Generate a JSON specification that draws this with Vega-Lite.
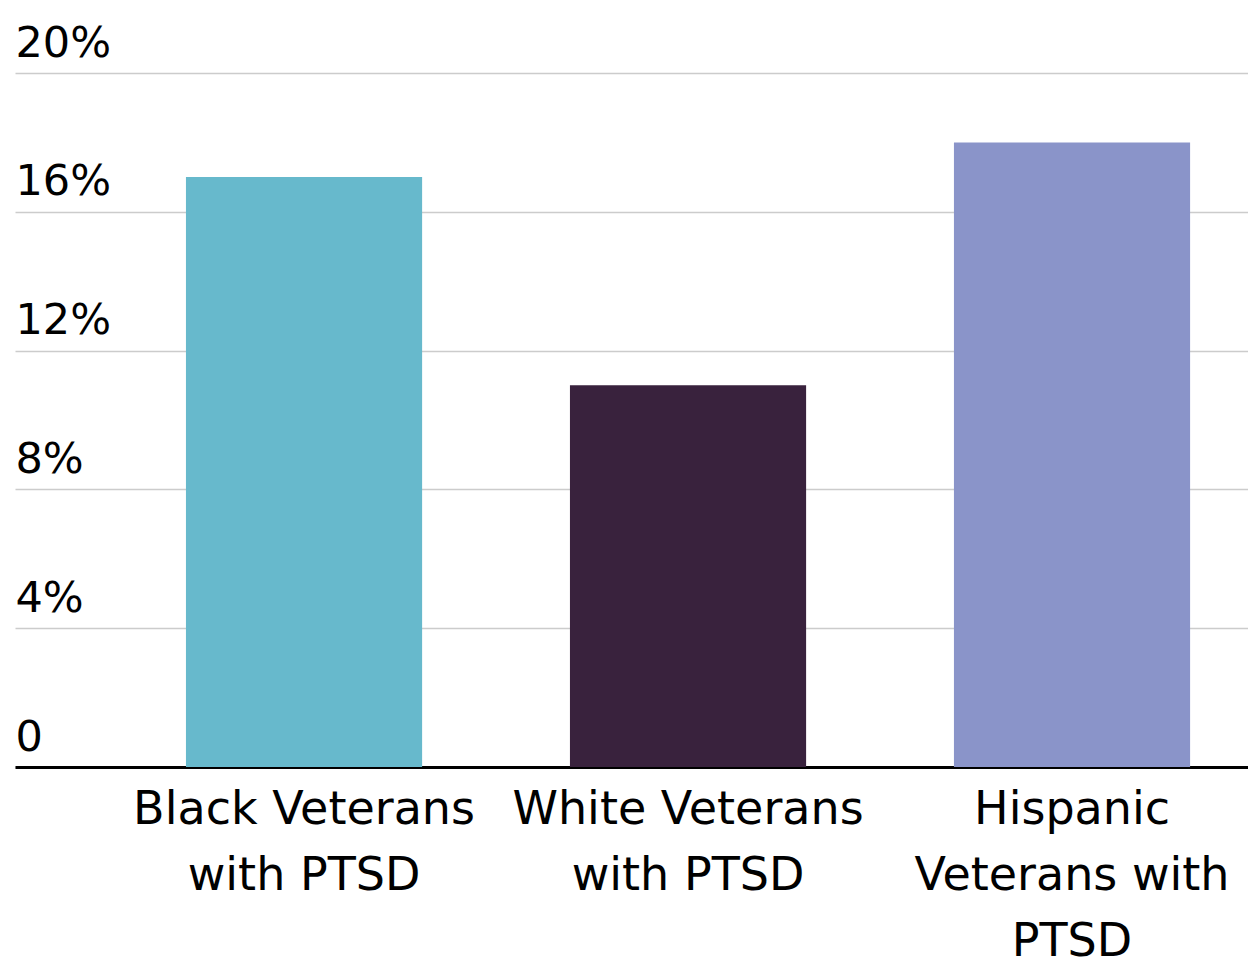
{
  "$schema": "https://vega.github.io/schema/vega-lite/v6.json",
  "autosize": {"type": "none"},
  "width": 1233,
  "height": 694,
  "padding": {"left": 15, "top": 73, "right": 0, "bottom": 193},
  "background": "white",
  "config": {"view": {"stroke": null}, "font": "DejaVu Sans"},
  "data": {
    "values": [
      {"group": "Black Veterans|with PTSD", "value": 17, "order": 1},
      {"group": "White Veterans|with PTSD", "value": 11, "order": 2},
      {"group": "Hispanic|Veterans with|PTSD", "value": 18, "order": 3}
    ]
  },
  "mark": {"type": "bar"},
  "encoding": {
    "x": {
      "field": "group",
      "type": "nominal",
      "sort": {"field": "order"},
      "scale": {"paddingInner": 0.385, "paddingOuter": 0.298, "align": 0.747},
      "axis": {
        "title": null,
        "labelAngle": 0,
        "labelExpr": "split(datum.label, '|')",
        "labelFont": "DejaVu Sans",
        "labelFontSize": 46,
        "labelColor": "#000000",
        "labelLineHeight": 66,
        "labelBaseline": "top",
        "labelPadding": 20,
        "ticks": false,
        "tickSize": 0,
        "domainColor": "#000000",
        "domainWidth": 3,
        "labelLimit": 0,
        "labelOverlap": false
      }
    },
    "y": {
      "field": "value",
      "type": "quantitative",
      "scale": {"domain": [0, 20]},
      "axis": {
        "title": null,
        "values": [0, 4, 8, 12, 16, 20],
        "labelExpr": "datum.value == 0 ? '0' : datum.value + '%'",
        "labelAlign": "left",
        "labelBaseline": "alphabetic",
        "labelOffset": -17,
        "labelPadding": 0,
        "ticks": false,
        "tickSize": 0,
        "domain": false,
        "grid": true,
        "gridColor": "#cccccc",
        "gridWidth": 1.5,
        "labelFont": "DejaVu Sans",
        "labelFontSize": 43,
        "labelColor": "#000000"
      }
    },
    "color": {
      "field": "group",
      "type": "nominal",
      "legend": null,
      "scale": {
        "domain": ["Black Veterans|with PTSD", "White Veterans|with PTSD", "Hispanic|Veterans with|PTSD"],
        "range": ["#67B9CC", "#39223D", "#8A94C9"]
      }
    }
  }
}
